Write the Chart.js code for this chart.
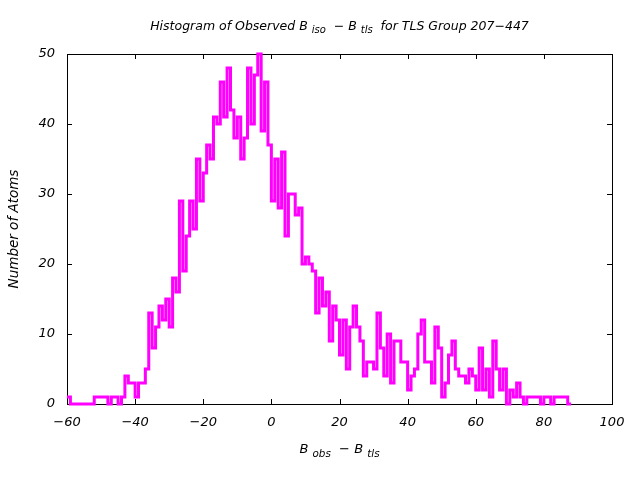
<!DOCTYPE html>
<html>
<head>
  <title>Histogram of Observed B iso - B tls</title>
  <script src="https://cdn.jsdelivr.net/npm/chart.js@4.4.1/dist/chart.umd.min.js"></script>
  <style>
    html, body { margin: 0; padding: 0; background: #fff; }
    #wrap { width: 640px; height: 480px; }
  </style>
</head>
<body>
  <div id="wrap"><canvas id="hist" width="640" height="480"></canvas></div>
  <script>
    // bins are 1 unit wide, first bin starts at -60
    const binStart = -60;
    const binWidth = 1;
    const counts = [
      1, 0, 0, 0, 0, 0, 0, 0, 1, 1,          // -60 .. -51
      1, 1, 0, 1, 1, 0, 1, 4, 3, 3,          // -50 .. -41
      1, 3, 3, 5, 13, 8, 11, 14, 12, 15,     // -40 .. -31
      11, 18, 16, 29, 19, 24, 29, 25, 35, 29, // -30 .. -21
      33, 37, 35, 41, 40, 46, 41, 48, 42, 38, // -20 .. -11
      41, 35, 38, 48, 40, 47, 50, 39, 46, 37, // -10 .. -1
      29, 35, 28, 36, 24, 30, 30, 27, 28, 20, // 0 .. 9
      21, 20, 19, 13, 18, 14, 16, 9, 14, 12,  // 10 .. 19
      7, 12, 5, 11, 14, 11, 9, 4, 6, 6,       // 20 .. 29
      5, 13, 8, 4, 10, 3, 9, 9, 6, 6,         // 30 .. 39
      2, 4, 5, 10, 12, 6, 6, 3, 11, 8,        // 40 .. 49
      1, 3, 7, 9, 5, 4, 4, 3, 5, 4,           // 50 .. 59
      2, 8, 2, 5, 1, 9, 5, 2, 5, 0,           // 60 .. 69
      2, 1, 3, 1, 0, 1, 1, 1, 1, 0,           // 70 .. 79
      1, 1, 0, 1, 1, 1, 1, 0                  // 80 .. 87
    ];
    const xTicks = [-60, -40, -20, 0, 20, 40, 60, 80, 100];
    const yTicks = [0, 10, 20, 30, 40, 50];

    const FONT = 'DejaVu Sans';
    const minus = s => String(s).replace('-', '\u2212');

    // step points: left edge of each bin, plus the right edge of the last one
    const points = counts.map((c, i) => ({ x: binStart + i * binWidth, y: c }));
    points.push({ x: binStart + counts.length * binWidth, y: counts[counts.length - 1] });

    // text with subscripts, drawn centred on cx
    function drawRich(ctx, parts, cx, cy, size, rotate) {
      ctx.save();
      ctx.translate(cx, cy);
      if (rotate) ctx.rotate(-Math.PI / 2);
      ctx.fillStyle = '#000';
      ctx.textBaseline = 'middle';
      ctx.textAlign = 'left';
      let total = 0;
      parts.forEach(p => {
        ctx.font = `italic ${p[1] ? size * 0.8 : size}px "${FONT}"`;
        total += ctx.measureText(p[0]).width;
      });
      let x = -total / 2;
      parts.forEach(p => {
        ctx.font = `italic ${p[1] ? size * 0.8 : size}px "${FONT}"`;
        ctx.fillText(p[0], x, p[1] ? size * 0.3 : 0);
        x += ctx.measureText(p[0]).width;
      });
      ctx.restore();
    }

    const framePlugin = {
      id: 'frame',
      beforeDatasetsDraw(chart) {
        const { ctx, chartArea: a, scales } = chart;
        ctx.save();
        ctx.strokeStyle = '#000';
        ctx.lineWidth = 1;
        ctx.strokeRect(a.left + 0.5, a.top + 0.5, a.right - a.left, a.bottom - a.top);
        ctx.beginPath();
        xTicks.forEach(v => {
          const px = Math.round(scales.x.getPixelForValue(v)) + 0.5;
          ctx.moveTo(px, a.bottom); ctx.lineTo(px, a.bottom - 5);
          ctx.moveTo(px, a.top); ctx.lineTo(px, a.top + 5);
        });
        yTicks.forEach(v => {
          const py = Math.round(scales.y.getPixelForValue(v)) + 0.5;
          ctx.moveTo(a.left, py); ctx.lineTo(a.left + 5, py);
          ctx.moveTo(a.right, py); ctx.lineTo(a.right - 5, py);
        });
        ctx.stroke();
        ctx.restore();
      },
      afterDraw(chart) {
        const { ctx, chartArea: a } = chart;
        const mid = (a.left + a.right) / 2;
        drawRich(ctx, [['Histogram of Observed B ', 0], ['iso', 1], ['  \u2212 B ', 0], ['tls', 1], ['  for TLS Group 207\u2212447', 0]], mid, 27, 12.5);
        drawRich(ctx, [['B ', 0], ['obs', 1], ['  \u2212 B ', 0], ['tls', 1]], mid, 450, 13);
        drawRich(ctx, [['Number of Atoms', 0]], 14, (a.top + a.bottom) / 2, 13.5, true);
      }
    };

    new Chart(document.getElementById('hist'), {
      type: 'line',
      data: {
        datasets: [{
          data: points,
          stepped: 'before',
          borderColor: '#ff00ff',
          borderWidth: 3,
          pointRadius: 0,
          fill: false,
          clip: 3
        }]
      },
      options: {
        responsive: false,
        animation: false,
        events: [],
        layout: { padding: { left: 0, right: 28, top: 54, bottom: 0 } },
        plugins: { legend: { display: false }, tooltip: { enabled: false } },
        scales: {
          x: {
            type: 'linear', min: -60, max: 100,
            afterBuildTicks: s => { s.ticks = xTicks.map(v => ({ value: v })); },
            afterFit: s => { s.height = 76; },
            grid: { display: false, drawTicks: false },
            border: { display: false },
            ticks: { color: '#000', padding: 11, font: { family: FONT, size: 13, style: 'italic' }, callback: v => minus(v) }
          },
          y: {
            type: 'linear', min: 0, max: 50,
            afterBuildTicks: s => { s.ticks = yTicks.map(v => ({ value: v })); },
            afterFit: s => { s.width = 67; },
            grid: { display: false, drawTicks: false },
            border: { display: false },
            ticks: { color: '#000', padding: 12, font: { family: FONT, size: 13, style: 'italic' }, callback: v => minus(v) }
          }
        }
      },
      plugins: [framePlugin]
    });
  </script>
</body>
</html>
